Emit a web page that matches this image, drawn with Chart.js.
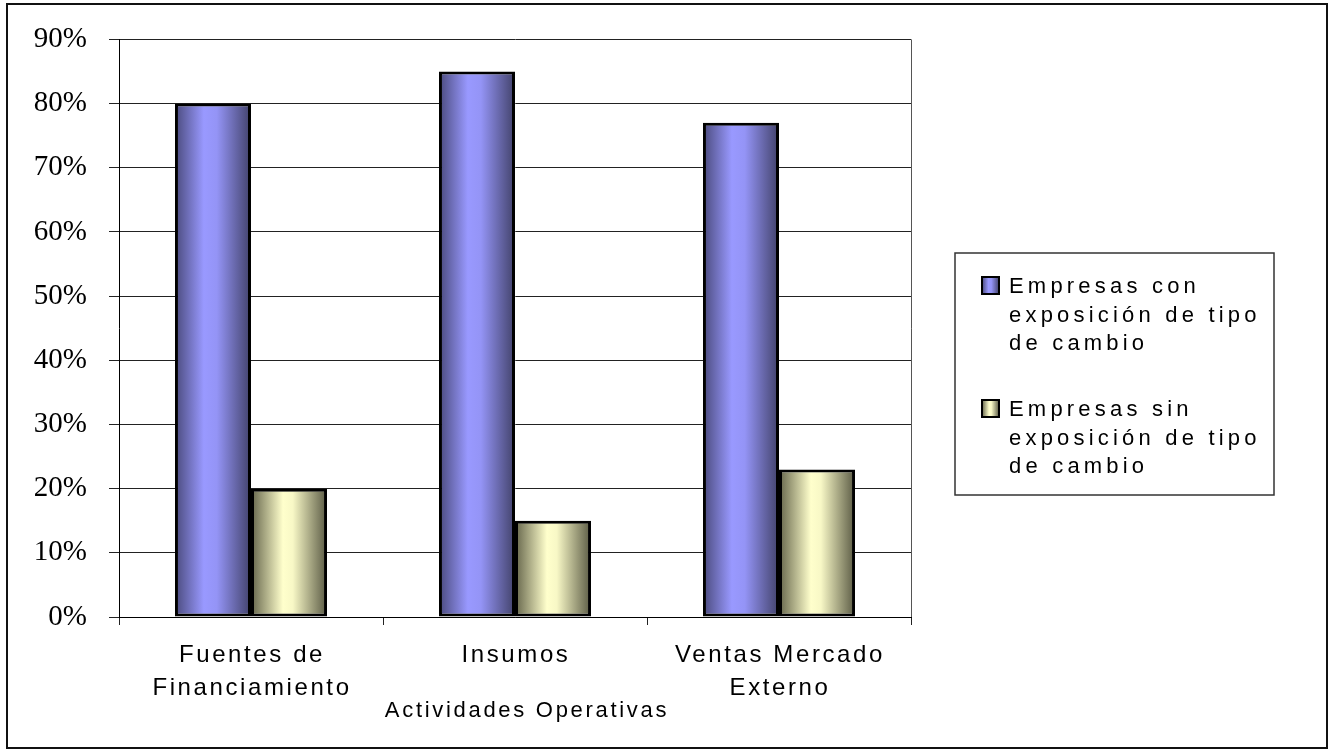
<!DOCTYPE html>
<html>
<head>
<meta charset="utf-8">
<script src="https://cdn.jsdelivr.net/npm/chart.js@4.4.1/dist/chart.umd.min.js"></script>
<style>
  html, body { margin: 0; padding: 0; background: #fff; }
  canvas { display: block; }
</style>
</head>
<body>
<canvas id="grafico" width="1331" height="750"></canvas>
<script>
// categorias (una linea por elemento)
const categorias = [
    ['Fuentes de', 'Financiamiento'],
    ['Insumos'],
    ['Ventas Mercado', 'Externo']
];
const tituloEjeX = 'Actividades Operativas';

// series
const serieCon = [80, 85, 77];
const serieSin = [20, 15, 23];
const nombreCon = ['Empresas con', 'exposición de tipo', 'de cambio'];
const nombreSin = ['Empresas sin', 'exposición de tipo', 'de cambio'];

// eje Y
const ticksY = ['0%', '10%', '20%', '30%', '40%', '50%', '60%', '70%', '80%', '90%'];

const anchoCategoria = 0.576;

// degradados horizontales de las barras
const coloresCon = [[0, '#4a4a7c'], [0.38, '#9999ff'], [0.55, '#9494f6'], [1, '#42426a']];
const coloresSin = [[0, '#64644a'], [0.42, '#ffffcc'], [0.55, '#f8f8c6'], [1, '#5a5a44']];

function degradado(ctx, izq, der, paradas) {
    const g = ctx.createLinearGradient(izq, 0, der, 0);
    paradas.forEach(p => g.addColorStop(p[0], p[1]));
    return g;
}

function rellenoBarra(paradas, lado) {
    return function (c) {
        const xs = c.chart.scales.x;
        if (c.type !== 'data' || !xs) return paradas[1][1];
        const paso = xs.getPixelForValue(1) - xs.getPixelForValue(0);
        const centro = xs.getPixelForValue(c.dataIndex);
        if (!isFinite(paso) || !isFinite(centro) || paso <= 0) return paradas[1][1];
        const w = paso * anchoCategoria / 2;
        const izq = lado === 0 ? centro - w : centro;
        return degradado(c.chart.ctx, izq, izq + w, paradas);
    };
}

// textos, leyenda y marcos
const extras = {
    id: 'extras',
    afterDraw(chart) {
        const ctx = chart.ctx;
        const area = chart.chartArea;
        const xs = chart.scales.x;

        ctx.save();

        // marco del area de trazado
        ctx.strokeStyle = '#555';
        ctx.lineWidth = 1;
        ctx.beginPath();
        ctx.moveTo(Math.round(area.right) + 0.5, area.top);
        ctx.lineTo(Math.round(area.right) + 0.5, area.bottom);
        ctx.stroke();

        // etiquetas de categoria
        ctx.fillStyle = '#000';
        ctx.font = '24px "Liberation Sans", Arial, sans-serif';
        ctx.letterSpacing = '2.6px';
        ctx.textAlign = 'center';
        ctx.textBaseline = 'alphabetic';
        categorias.forEach((lineas, i) => {
            const x = xs.getPixelForValue(i);
            lineas.forEach((t, j) => ctx.fillText(t, x + 1, area.bottom + 45 + j * 33));
        });

        // titulo del eje
        ctx.font = '22px "Liberation Sans", Arial, sans-serif';
        ctx.letterSpacing = '2.7px';
        ctx.fillText(tituloEjeX, (area.left + area.right) / 2 + 12, area.bottom + 100);

        // leyenda
        const caja = { x: 955, y: 253, w: 319, h: 242 };
        ctx.strokeStyle = '#333';
        ctx.lineWidth = 1.5;
        ctx.strokeRect(caja.x, caja.y, caja.w, caja.h);

        ctx.font = '22px "Liberation Sans", Arial, sans-serif';
        ctx.letterSpacing = '4.2px';
        ctx.textAlign = 'left';
        chart.data.datasets.forEach((ds, k) => {
            const base = 293 + k * 123;
            const sx = 982, sy = base - 16;
            ctx.fillStyle = degradado(ctx, sx, sx + 17, k === 0 ? coloresCon : coloresSin);
            ctx.fillRect(sx, sy, 17, 17);
            ctx.strokeStyle = '#000';
            ctx.lineWidth = 2;
            ctx.strokeRect(sx, sy, 17, 17);
            ctx.fillStyle = '#000';
            ds.lineas.forEach((t, j) => ctx.fillText(t, 1009, base + j * 28.5));
        });

        // borde exterior
        ctx.letterSpacing = '0px';
        ctx.strokeStyle = '#111';
        ctx.lineWidth = 2;
        ctx.strokeRect(7, 4, 1320, 744);

        ctx.restore();
    }
};

const grafico = new Chart(document.getElementById('grafico').getContext('2d'), {
    type: 'bar',
    data: {
        labels: categorias.map(c => c.join(' ')),
        datasets: [
            {
                label: nombreCon.join(' '),
                lineas: nombreCon,
                data: serieCon,
                backgroundColor: rellenoBarra(coloresCon, 0),
                borderColor: '#000',
                borderWidth: 3,
                borderSkipped: false
            },
            {
                label: nombreSin.join(' '),
                lineas: nombreSin,
                data: serieSin,
                backgroundColor: rellenoBarra(coloresSin, 1),
                borderColor: '#000',
                borderWidth: 3,
                borderSkipped: false
            }
        ]
    },
    options: {
        responsive: false,
        animation: false,
        devicePixelRatio: 1,
        layout: { padding: { top: 38, right: 420, left: 0, bottom: 0 } },
        datasets: {
            bar: { categoryPercentage: anchoCategoria, barPercentage: 1 }
        },
        plugins: {
            legend: { display: false },
            tooltip: { enabled: false }
        },
        scales: {
            x: {
                afterFit(scale) { scale.height = 133; },
                ticks: { display: false },
                grid: {
                    offset: true,
                    drawOnChartArea: false,
                    drawTicks: true,
                    tickLength: 8,
                    color: '#222',
                    lineWidth: 1
                },
                border: { display: true, color: '#000', width: 1 }
            },
            y: {
                min: 0,
                max: 90,
                afterFit(scale) { scale.width = 119; },
                ticks: {
                    stepSize: 10,
                    padding: 22,
                    color: '#000',
                    font: { family: '"Liberation Serif", "Times New Roman", serif', size: 29 },
                    callback: (v, i) => ticksY[i]
                },
                grid: {
                    color: '#222',
                    lineWidth: 1,
                    tickLength: 10
                },
                border: { display: true, color: '#000', width: 1 }
            }
        }
    },
    plugins: [extras]
});
</script>
</body>
</html>
